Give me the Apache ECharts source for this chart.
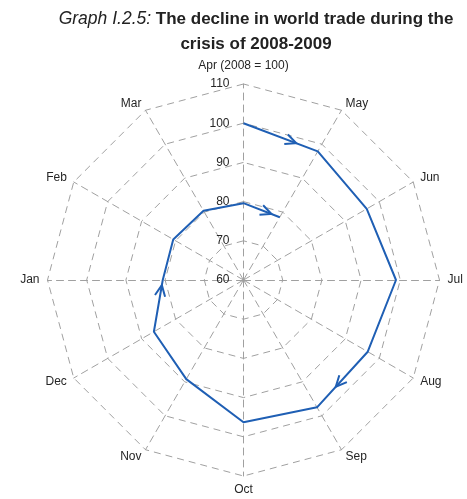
<!DOCTYPE html>
<html>
<head>
<meta charset="utf-8">
<script src="https://cdn.jsdelivr.net/npm/echarts@6/dist/echarts.min.js"></script>
<style>
  html, body { margin: 0; padding: 0; background: #fff; }
  #chart { width: 467px; height: 499px; }
</style>
</head>
<body>
<div id="chart"></div>
<script>
// months around the dial, clockwise from the top
var months = ['Apr', 'May', 'Jun', 'Jul', 'Aug', 'Sep', 'Oct', 'Nov', 'Dec', 'Jan', 'Feb', 'Mar'];
// path of the index, Apr 2008 .. May 2009
var pathMonths = ['Apr', 'May', 'Jun', 'Jul', 'Aug', 'Sep', 'Oct', 'Nov', 'Dec', 'Jan', 'Feb', 'Mar', 'Apr', 'May'];
var tradeIndex = [100, 97.9, 96.3, 98.9, 96.6, 97.5, 96.3, 89.2, 86.4, 80.6, 80.7, 80.4, 79.6, 78.5];
var radialTicks = [60, 70, 80, 90, 100, 110];
// arrows: segment start (index into path), where the head sits along it
var arrowFrom = [0, 4, 8, 12];
var arrowAt = [0.71, 0.63, 0.9, 0.77];

var lineColor = '#1f5fb4';
var gridColor = '#a0a0a0';
var center = [243.5, 280];
var outerR = 196;

var lineData = pathMonths.map(function (m, i) {
  return [tradeIndex[i], months.indexOf(m)];
});
var arrowData = arrowFrom.map(function (s, k) {
  return [tradeIndex[s], months.indexOf(pathMonths[s]),
          tradeIndex[s + 1], months.indexOf(pathMonths[s + 1]), arrowAt[k]];
});

// radar goes counter-clockwise, so feed it the months reversed
var indicators = [months[0]].concat(months.slice(1).reverse()).map(function (m) {
  return { name: m, min: radialTicks[0], max: radialTicks[radialTicks.length - 1] };
});

var myChart = echarts.init(document.getElementById('chart'));
var option = {
  animation: false,
  title: {
    text: '{i|Graph I.2.5:}{b| The decline in world trade during the}\n{b|crisis of 2008-2009}',
    left: 251,
    top: 2,
    textAlign: 'center',
    textStyle: {
      rich: {
        i: { fontFamily: 'Liberation Sans', fontStyle: 'italic', fontWeight: 'normal', fontSize: 17.5, color: '#222', lineHeight: 25 },
        b: { fontFamily: 'Liberation Sans', fontWeight: 'bold', fontSize: 17, color: '#222', lineHeight: 25 }
      }
    }
  },
  radar: {
    center: center,
    radius: outerR,
    startAngle: 90,
    shape: 'polygon',
    splitNumber: 5,
    indicator: indicators,
    axisNameGap: 8,
    axisName: {
      color: '#262626',
      fontFamily: 'Liberation Sans',
      fontSize: 12,
      formatter: function (name) {
        return name === 'Apr' ? '{t|Apr (2008 = 100)}' : name;
      },
      rich: {
        t: { color: '#262626', fontFamily: 'Liberation Sans', fontSize: 12, padding: [0, 0, 4, 0] }
      }
    },
    splitArea: { show: false },
    splitLine: { lineStyle: { color: gridColor, width: 1, type: [7, 5] } },
    axisLine: { lineStyle: { color: gridColor, width: 1, type: [7, 5] } }
  },
  polar: {
    center: center,
    radius: outerR
  },
  angleAxis: {
    type: 'value',
    min: 0,
    max: 12,
    startAngle: 90,
    clockwise: true,
    axisLine: { show: false },
    axisTick: { show: false },
    axisLabel: { show: false },
    splitLine: { show: false }
  },
  radiusAxis: {
    type: 'value',
    min: 60,
    max: 110,
    interval: 10,
    axisLine: { show: false },
    axisTick: { show: false },
    splitLine: { show: false },
    axisLabel: {
      show: true,
      color: '#262626',
      fontFamily: 'Liberation Sans',
      fontSize: 12,
      margin: 14
    }
  },
  series: [
    {
      type: 'line',
      coordinateSystem: 'polar',
      data: lineData,
      showSymbol: false,
      lineStyle: { color: lineColor, width: 2 },
      z: 5
    },
    {
      type: 'custom',
      coordinateSystem: 'polar',
      data: arrowData,
      z: 6,
      renderItem: function (params, api) {
        var p1 = api.coord([api.value(0), api.value(1)]);
        var p2 = api.coord([api.value(2), api.value(3)]);
        var t = api.value(4);
        var tip = [p1[0] + (p2[0] - p1[0]) * t, p1[1] + (p2[1] - p1[1]) * t];
        var ang = Math.atan2(p2[1] - p1[1], p2[0] - p1[0]);
        var L = 12, w = 0.44;
        var a = [tip[0] - L * Math.cos(ang - w), tip[1] - L * Math.sin(ang - w)];
        var b = [tip[0] - L * Math.cos(ang + w), tip[1] - L * Math.sin(ang + w)];
        return {
          type: 'polyline',
          shape: { points: [a, tip, b] },
          style: { stroke: lineColor, lineWidth: 2, fill: null }
        };
      }
    }
  ]
};
myChart.setOption(option, true);
</script>
</body>
</html>
